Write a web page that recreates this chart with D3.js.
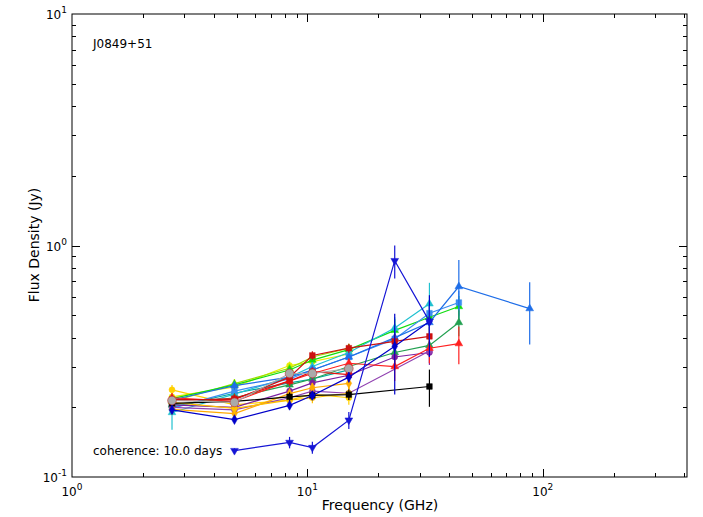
<!DOCTYPE html>
<html>
<head>
<meta charset="utf-8">
<script src="https://cdn.jsdelivr.net/npm/d3@7"></script>
<style>
    body { margin: 0; background: #fff; }
    text { font-family: "DejaVu Sans", sans-serif; fill: #000; }
</style>
</head>
<body>
<script>
// spectra of J0849+51, one line per epoch

var freqs = [2.66, 4.9, 8.4, 10.5, 15.0, 23.5, 33.0, 44.0, 88.0];

// flux density (Jy) per epoch, null where no measurement
var flux_a = [0.238, 0.205, 0.215, 0.228, 0.220];
var flux_b = [0.222, 0.245, 0.303, 0.315, 0.340];
var flux_c = [0.212, 0.253, 0.295, 0.330, 0.360];
var flux_d = [0.218, 0.250, 0.290, 0.320, 0.355, 0.430, 0.490, 0.545];
var flux_e = [0.215, 0.248, 0.270, 0.290, 0.330, 0.400, 0.465, 0.665, 0.534];
var flux_f = [0.190, 0.228, 0.270, 0.300, 0.345, 0.440, 0.560];
var flux_g = [0.198, 0.235, 0.265, 0.290, 0.330, 0.395, 0.510, 0.567];
var flux_h = [0.205, 0.220, 0.250, 0.265, 0.300, 0.345, 0.370, 0.465];
var flux_i = [0.216, 0.216, 0.270, 0.335, 0.360, 0.385, 0.405];
var flux_j = [0.220, 0.212, 0.260, 0.280, 0.310, 0.300, 0.360, 0.377];
var flux_k = [0.214, 0.218, 0.260, 0.285, 0.277];
var flux_l = [0.214, 0.210, 0.280, 0.280, 0.294];
var flux_m = [0.205, 0.200, 0.235, 0.255, 0.275, 0.330, 0.345];
var flux_n = [0.200, 0.195, 0.220, 0.235, 0.230, null, 0.350];
var flux_o = [0.196, 0.188, 0.229, 0.243, 0.254];
var flux_p = [0.210, 0.198, 0.215, 0.220, 0.230];
var flux_q = [0.208, 0.212, 0.222, 0.225, 0.227, null, 0.246];
var flux_r = [0.195, 0.177, 0.204, 0.225, 0.270, 0.367, 0.470];
var flux_s = [null, 0.130, 0.141, 0.134, 0.176, 0.860, 0.470];
var flux_t = [0.200, 0.230, 0.255, 0.265, 0.290];

// 1-sigma errors (Jy)
var err_a = [0.012, 0.008, 0.010, 0.012, 0.015];
var err_b = [0.010, 0.010, 0.012, 0.012, 0.015];
var err_c = [0.010, 0.012, 0.012, 0.012, 0.015];
var err_d = [0.010, 0.012, 0.012, 0.014, 0.018, 0.050, 0.080, 0.060];
var err_e = [0.010, 0.010, 0.012, 0.014, 0.016, 0.040, 0.050, 0.200, 0.160];
var err_f = [0.030, 0.010, 0.012, 0.014, 0.016, 0.050, 0.130];
var err_g = [0.010, 0.010, 0.012, 0.014, 0.016, 0.040, 0.060, 0.070];
var err_h = [0.010, 0.010, 0.012, 0.012, 0.015, 0.030, 0.040, 0.060];
var err_i = [0.010, 0.010, 0.012, 0.014, 0.016, 0.030, 0.040];
var err_j = [0.010, 0.010, 0.012, 0.012, 0.015, 0.040, 0.050, 0.070];
var err_k = [0.010, 0.010, 0.012, 0.012, 0.015];
var err_l = [0.008, 0.008, 0.010, 0.010, 0.012];
var err_m = [0.010, 0.010, 0.010, 0.012, 0.014, 0.030, 0.040];
var err_n = [0.010, 0.010, 0.010, 0.012, 0.014, null, 0.040];
var err_o = [0.010, 0.010, 0.012, 0.012, 0.014];
var err_p = [0.010, 0.010, 0.012, 0.012, 0.014];
var err_q = [0.008, 0.008, 0.010, 0.010, 0.012, null, 0.045];
var err_r = [0.008, 0.006, 0.008, 0.010, 0.014, 0.140, 0.140];
var err_s = [null, 0.003, 0.008, 0.008, 0.015, 0.140, 0.080];
var err_t = [0.010, 0.010, 0.012, 0.012, 0.014];

var series = [
    [flux_a, err_a, "#ffd000", "circle"],
    [flux_b, err_b, "#e8ee00", "circle"],
    [flux_c, err_c, "#99e000", "triangle"],
    [flux_d, err_d, "#10dd10", "triangle"],
    [flux_t, err_t, "#00a8a0", "circle"],
    [flux_f, err_f, "#20c0d0", "triangle"],
    [flux_g, err_g, "#3a8df0", "square"],
    [flux_e, err_e, "#1f6ee8", "triangle"],
    [flux_h, err_h, "#22a050", "triangle"],
    [flux_m, err_m, "#7b1fa2", "circle"],
    [flux_n, err_n, "#9040b0", "circle"],
    [flux_o, err_o, "#ffaa00", "diamond"],
    [flux_p, err_p, "#ffc000", "circle"],
    [flux_q, err_q, "#000000", "square"],
    [flux_j, err_j, "#ff2020", "triangle"],
    [flux_k, err_k, "#e01010", "square"],
    [flux_i, err_i, "#cc1111", "square"],
    [flux_l, err_l, "#aaaaaa", "bigcircle"],
    [flux_r, err_r, "#0000c8", "diamond"],
    [flux_s, err_s, "#1515d5", "tridown"]
];

var xMajor = [1, 10, 100];
var yMajor = [0.1, 1, 10];

function show_chart() {
    var width = 703, height = 517;
    var left = 72, top = 14, right = 687, bottom = 477;

    var svg = d3.select("body").append("svg")
                .attr("width", width)
                .attr("height", height);

    var x = d3.scaleLog().domain([1, 410]).range([left, right]);
    var y = d3.scaleLog().domain([0.1, 10]).range([bottom, top]);

    // minor tick values
    var xMinor = [], yMinor = [];
    [1, 10, 100].forEach(function(d) {
        for (var k = 2; k <= 9; k++) if (d * k < 410) xMinor.push(d * k);
    });
    [0.1, 1].forEach(function(d) {
        for (var k = 2; k <= 9; k++) yMinor.push(d * k);
    });

    svg.append("clipPath").attr("id", "plotclip")
        .append("rect").attr("x", left).attr("y", top)
        .attr("width", right - left).attr("height", bottom - top);

    var plot = svg.append("g").attr("clip-path", "url(#plotclip)");

    series.forEach(function(s) {
        var flux = s[0], err = s[1], color = s[2], marker = s[3];
        var pts = [];
        flux.forEach(function(v, i) {
            if (v != null) pts.push({f: freqs[i], v: v, e: err[i]});
        });

        var line = d3.line()
            .x(function(d) { return x(d.f); })
            .y(function(d) { return y(d.v); });

        plot.append("path")
            .datum(pts)
            .attr("d", line)
            .attr("fill", "none")
            .attr("stroke", color)
            .attr("stroke-width", 1.2);

        plot.selectAll(null)
            .data(pts)
            .enter()
            .append("line")
            .attr("x1", function(d) { return x(d.f); })
            .attr("x2", function(d) { return x(d.f); })
            .attr("y1", function(d) { return y(d.v + d.e); })
            .attr("y2", function(d) { return y(Math.max(d.v - d.e, 0.05)); })
            .attr("stroke", color)
            .attr("stroke-width", 1.2);

        var type = d3.symbolCircle, size = 28, rot = 0;
        if (marker == "square") { type = d3.symbolSquare; size = 32; }
        if (marker == "triangle") { type = d3.symbolTriangle; size = 26; }
        if (marker == "tridown") { type = d3.symbolTriangle; size = 26; rot = 180; }
        if (marker == "diamond") { type = d3.symbolDiamond; size = 28; }
        if (marker == "bigcircle") { size = 60; }

        plot.selectAll(null)
            .data(pts)
            .enter()
            .append("path")
            .attr("d", d3.symbol().type(type).size(size))
            .attr("transform", function(d) {
                return "translate(" + x(d.f) + "," + y(d.v) + ") rotate(" + rot + ")";
            })
            .attr("fill", color)
            .attr("stroke", marker == "bigcircle" ? "#c03030" : color)
            .attr("stroke-width", marker == "bigcircle" ? 0.6 : 0.5);
    });

    // frame
    svg.append("rect")
        .attr("x", left).attr("y", top)
        .attr("width", right - left).attr("height", bottom - top)
        .attr("fill", "none")
        .attr("stroke", "#000")
        .attr("stroke-width", 1);

    // ticks on all four sides, pointing inward
    var ticks = svg.append("g").attr("stroke", "#000").attr("stroke-width", 1);
    function xticks(vals, len) {
        vals.forEach(function(v) {
            var px = Math.round(x(v)) + 0.5;
            ticks.append("line").attr("x1", px).attr("x2", px).attr("y1", bottom).attr("y2", bottom - len);
            ticks.append("line").attr("x1", px).attr("x2", px).attr("y1", top).attr("y2", top + len);
        });
    }
    function yticks(vals, len) {
        vals.forEach(function(v) {
            var py = Math.round(y(v)) + 0.5;
            ticks.append("line").attr("y1", py).attr("y2", py).attr("x1", left).attr("x2", left + len);
            ticks.append("line").attr("y1", py).attr("y2", py).attr("x1", right).attr("x2", right - len);
        });
    }
    xticks(xMajor.slice(1), 8);
    xticks(xMinor, 4);
    yticks(yMajor.slice(1, 2), 8);
    yticks(yMinor, 4);

    // tick labels with superscript exponents
    function powLabel(g, v) {
        var p = Math.round(Math.log10(v));
        var t = g.append("text").style("font-size", "12px");
        t.append("tspan").text("10");
        t.append("tspan").attr("dy", -6).style("font-size", "9px")
            .text(p < 0 ? "-" + Math.abs(p) : p);
        return t;
    }
    xMajor.forEach(function(v) {
        powLabel(svg, v).attr("x", x(v)).attr("y", 496).attr("text-anchor", "middle");
    });
    yMajor.forEach(function(v) {
        powLabel(svg, v).attr("x", 67).attr("y", y(v) + 5).attr("text-anchor", "end");
    });

    svg.append("text")
        .attr("x", 380).attr("y", 510)
        .attr("text-anchor", "middle")
        .style("font-size", "14px")
        .text("Frequency (GHz)");

    svg.append("text")
        .attr("transform", "translate(39,245) rotate(-90)")
        .attr("text-anchor", "middle")
        .style("font-size", "14px")
        .text("Flux Density (Jy)");

    svg.append("text")
        .attr("x", 93).attr("y", 48)
        .style("font-size", "12px")
        .text("J0849+51");

    svg.append("text")
        .attr("x", 93).attr("y", 455)
        .style("font-size", "12px")
        .text("coherence: 10.0 days");
}

document.addEventListener("DOMContentLoaded", show_chart());
</script>
</body>
</html>
